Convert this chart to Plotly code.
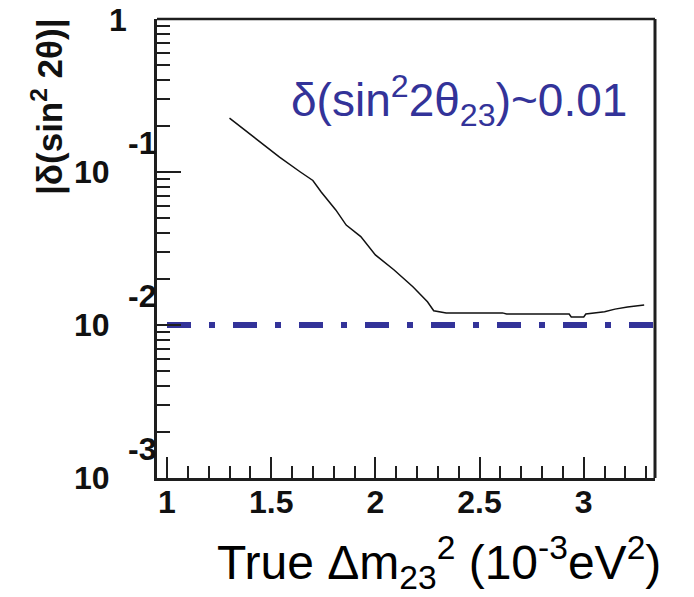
import math
import plotly.graph_objects as go

# Resolution curve: |δ(sin² 2θ)| versus true Δm²₂₃ (10⁻³ eV²)
dm2 = [1.30, 1.54, 1.64, 1.70, 1.74, 1.81, 1.86, 1.93, 2.00, 2.09, 2.18, 2.25,
       2.28, 2.34, 2.61, 2.63, 2.93, 2.94, 3.00, 3.01, 3.10, 3.15, 3.21, 3.29]
delta_sin2 = [0.225, 0.125, 0.100, 0.088, 0.074, 0.0565, 0.045, 0.0378, 0.0287,
              0.0229, 0.0178, 0.0142, 0.0124, 0.0120, 0.0120, 0.0118, 0.0118,
              0.0113, 0.0113, 0.0118, 0.0122, 0.0127, 0.0131, 0.0135]

# Target precision reference line
target_value = 0.01
target_x = [1.0, 3.342]

# Axis setup
x_range = [0.952, 3.342]
y_range_log = [-3, 0]
x_tickvals = [1, 1.5, 2, 2.5, 3]
x_ticktext = ["1", "1.5", "2", "2.5", "3"]
x_minor_vals = [round(1 + 0.1 * i, 2) for i in range(0, 24)]
y_major_vals = [1e-3, 1e-2, 1e-1, 1]
y_minor_vals = [m * 10 ** e for e in (-3, -2, -1) for m in range(2, 10)]
y_exponents = ["-3", "-2", "-1"]

INK = "#1e1e1e"
BLUE = "#333399"
FONT = "Liberation Sans, Arial, sans-serif"

fig = go.Figure()

fig.add_trace(go.Scatter(
    x=dm2, y=delta_sin2, mode="lines",
    line=dict(color="#111111", width=1.5),
    showlegend=False, hoverinfo="skip",
))

fig.add_trace(go.Scatter(
    x=target_x, y=[target_value, target_value], mode="lines",
    line=dict(color=BLUE, width=6, dash="24px,18px,6px,18px"),
    showlegend=False, hoverinfo="skip",
))

axis_common = dict(
    showgrid=False, zeroline=False, showline=True, linecolor=INK, linewidth=2.5,
    mirror=False, ticks="inside", tickcolor=INK, tickwidth=2,
)

fig.update_layout(
    width=694, height=597,
    margin=dict(l=157, r=39, t=19, b=119),
    paper_bgcolor="white", plot_bgcolor="white",
    xaxis=dict(
        range=x_range, tickvals=x_tickvals, ticktext=x_ticktext, ticklen=21,
        tickfont=dict(family=FONT, size=32, color="#111111", weight="bold"),
        ticklabelstandoff=-6,
        **axis_common,
    ),
    xaxis2=dict(
        range=x_range, overlaying="x", anchor="y", side="bottom",
        tickvals=x_minor_vals, ticklen=12, showticklabels=False,
        showgrid=False, zeroline=False, showline=False,
        ticks="inside", tickcolor=INK, tickwidth=2,
    ),
    yaxis=dict(
        type="log", range=y_range_log, tickvals=y_major_vals, ticklen=24,
        showticklabels=False,
        **axis_common,
    ),
    yaxis2=dict(
        type="log", range=y_range_log, overlaying="y", anchor="x", side="left",
        tickvals=y_minor_vals, ticklen=13, showticklabels=False,
        showgrid=False, zeroline=False, showline=False,
        ticks="inside", tickcolor=INK, tickwidth=2,
    ),
    showlegend=False,
)

# Dummy trace so the minor-tick axes are drawn
fig.add_trace(go.Scatter(x=[x_range[0]], y=[1e-3], xaxis="x2", yaxis="y2",
                         mode="markers", marker=dict(opacity=0),
                         showlegend=False, hoverinfo="skip"))

# Frame: top and right borders
fig.add_shape(type="line", xref="paper", yref="paper", x0=0, x1=1, y0=1, y1=1,
              line=dict(color=INK, width=2.5))
fig.add_shape(type="line", xref="paper", yref="paper", x0=1, x1=1, y0=0, y1=1,
              line=dict(color=INK, width=3))

# Y tick labels in "10^n" style
label_font = dict(family=FONT, size=32, color="#111111", weight="bold")
for val, exp in zip(y_major_vals[:3], y_exponents):
    fig.add_annotation(xref="paper", yref="y", x=0, y=math.log10(val),
                       text="10", showarrow=False, font=label_font,
                       xanchor="center", yanchor="middle", xshift=-65, yshift=0)
    fig.add_annotation(xref="paper", yref="y", x=0, y=math.log10(val),
                       text=exp, showarrow=False, font=label_font,
                       xanchor="center", yanchor="middle", xshift=-15, yshift=29)
fig.add_annotation(xref="paper", yref="y", x=0, y=0, text="1", showarrow=False,
                   font=label_font, xanchor="center", yanchor="middle",
                   xshift=-39, yshift=-1)

# Axis titles
fig.add_annotation(xref="paper", yref="paper", x=0, y=1,
                   text="|δ(sin<sup>2</sup> 2θ)|", textangle=-90, showarrow=False,
                   font=dict(family=FONT, size=35, color="#111111", weight="bold"),
                   xanchor="center", yanchor="middle", xshift=-110, yshift=-88)
fig.add_annotation(xref="paper", yref="paper", x=0, y=0,
                   text="True Δm<sub>23</sub><sup>2</sup> (10<sup>-3</sup>eV<sup>2</sup>)",
                   showarrow=False,
                   font=dict(family=FONT, size=48, color="#000000"),
                   xanchor="center", yanchor="middle", xshift=282, yshift=-84)

# Precision statement
fig.add_annotation(xref="paper", yref="paper", x=0, y=1,
                   text="δ(sin<sup>2</sup>2θ<sub>23</sub>)~0.01", showarrow=False,
                   font=dict(family=FONT, size=46, color=BLUE),
                   xanchor="left", yanchor="middle", xshift=132, yshift=-81)

fig.write_html("out.html")
